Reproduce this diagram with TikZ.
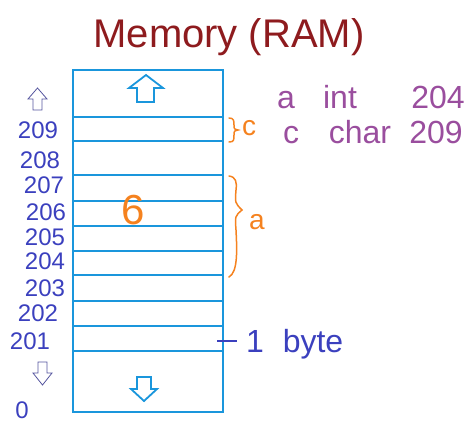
\documentclass[tikz,border=0pt]{standalone}
\usepackage{fontspec}
\setmainfont{Liberation Sans}
\usetikzlibrary{calc}
\definecolor{boxblue}{HTML}{1A96DC}
\definecolor{numblue}{HTML}{3B40BE}
\definecolor{purp}{HTML}{9A4E9E}
\definecolor{orng}{HTML}{F5821F}
\definecolor{ttlred}{HTML}{8E1B1E}
\definecolor{arrblue}{HTML}{55559E}
\tikzset{
  cellline/.style={draw=boxblue, line width=1.8pt},
  addr/.style={text=numblue, font=\fontsize{24}{24}\selectfont, inner sep=0pt},
  purptext/.style={text=purp, font=\fontsize{32}{32}\selectfont, inner sep=0pt, anchor=base},
  orngtext/.style={text=orng, inner sep=0pt},
  bytetext/.style={text=numblue, font=\fontsize{32}{32}\selectfont, inner sep=0pt, anchor=base},
  bigarrow/.style={draw=boxblue, line width=1.8pt, line join=miter},
  smallarrow/.style={draw=arrblue, line width=0.8pt, line join=miter},
  bracestyle/.style={draw=orng, line width=1.5pt, line cap=round}
}
\begin{document}
\begin{tikzpicture}[x=1pt,y=-1pt]
\useasboundingbox (0,0) rectangle (476,436);
% title
\node[text=ttlred, font=\fontsize{40}{40}\selectfont, inner sep=0pt] (title) at (229,37) {Memory (RAM)};
% memory column
\coordinate (tl) at (73,70);
\coordinate (br) at (223,412);
\draw[cellline] (tl) rectangle (br);
\foreach \y [count=\i] in {117,141,175,201,226,251,275,301,326,351} {
  \coordinate (L\i) at (73,\y);
  \coordinate (R\i) at (223,\y);
  \draw[cellline] (L\i) -- (R\i);
}
% big arrows
\draw[bigarrow] (137,102) -- (137,88) -- (129,88) -- (146,75) -- (163,88) -- (154,88) -- (154,102) -- cycle;
\draw[bigarrow] (137,377) -- (137,389) -- (131,389) -- (144,401) -- (157,389) -- (151,389) -- (151,377) -- cycle;
% small arrows
\draw[smallarrow] (33,110) -- (33,99) -- (28,99) -- (37.5,88) -- (47,99) -- (42,99) -- (42,110) -- cycle;
\draw[smallarrow] (38,362) -- (38,373) -- (33,373) -- (42.5,385) -- (52,373) -- (47,373) -- (47,362) -- cycle;
% addresses
\node[addr] (a209) at (38,130) {209};
\node[addr] (a208) at (40,160) {208};
\node[addr] (a207) at (44,185) {207};
\node[addr] (a206) at (46,212) {206};
\node[addr] (a205) at (45,237) {205};
\node[addr] (a204) at (45,261) {204};
\node[addr] (a203) at (45,288) {203};
\node[addr] (a202) at (38,313) {202};
\node[addr] (a201) at (30,341) {201};
\node[addr] (a0) at (22,410) {0};
% value 6
\node[orngtext, font=\fontsize{42}{42}\selectfont] (six) at (133,210) {6};
% braces
\draw[bracestyle] (229,118) .. controls (234,118) and (234,121) .. (234,125)
  .. controls (234,129) .. (238,130) .. controls (234,131) .. (234,135)
  .. controls (234,140) and (234,142) .. (229,142);
\node[orngtext, font=\fontsize{28}{28}\selectfont] (clab) at (249,128) {c};
\draw[bracestyle] (229,176) .. controls (236,177) and (237,182) .. (236,190)
  .. controls (235,203) .. (242,210) .. controls (235,216) .. (236,230)
  .. controls (237,250) and (238,272) .. (229,277);
\node[orngtext, font=\fontsize{28}{28}\selectfont] (alab) at (257,222) {a};
% right notes
\node[purptext] (na) at (286,108) {a};
\node[purptext] (nint) at (340,108) {int};
\node[purptext] (n204) at (438,108) {204};
\node[purptext] (nc) at (291,143) {c};
\node[purptext] (nchar) at (360,143) {char};
\node[purptext] (n209) at (436,143) {209};
% one byte
\coordinate (tick) at (217,341);
\draw[draw=numblue, line width=1.6pt] (tick) -- ++(20,0) coordinate (tickend);
\node[bytetext] (one) at (255,352) {1};
\node[bytetext] (byte) at (313,352) {byte};
\end{tikzpicture}
\end{document}
